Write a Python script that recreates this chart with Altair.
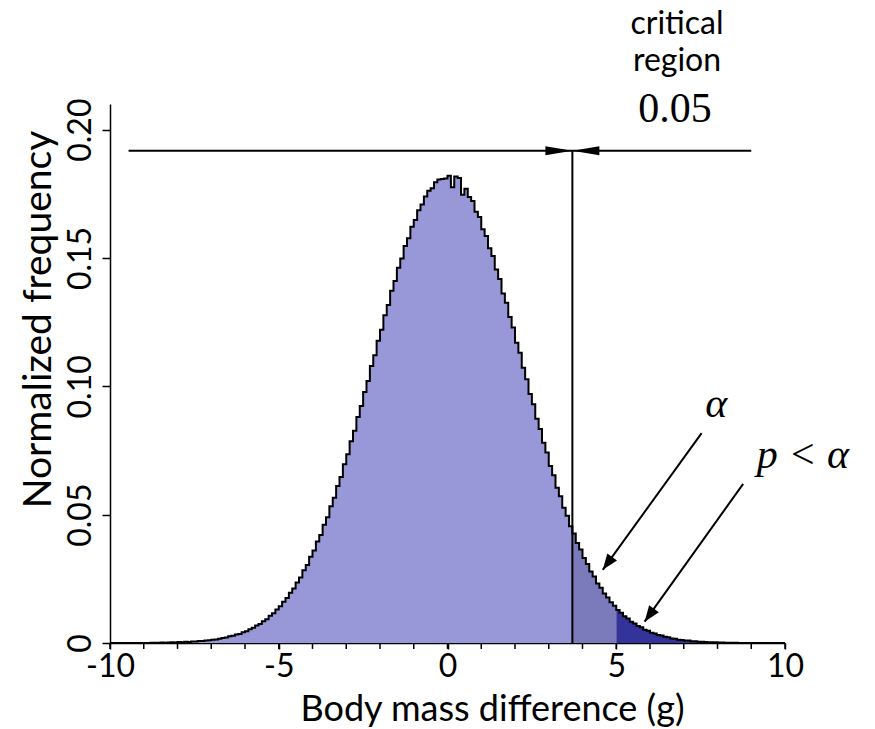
import altair as alt
import pandas as pd

# ---------------- data ----------------
bin_lo = -10.0
bin_w = 0.1

# bin heights, bins from -10.0 to 0.0 (step 0.1)
freq_left = [
    0, 0, 0, 0, 0, 0, 0, 0, 0, 0, 0, 0, 0.0001, 0.0001,
    0.0001, 0.0002, 0.0001, 0.0002, 0.0003, 0.0002, 0.0004, 0.0003, 0.0005, 0.0004,
    0.0006, 0.0006, 0.0008, 0.0008, 0.0010, 0.0011, 0.0013, 0.0014, 0.0017, 0.0019,
    0.0021, 0.0026, 0.0028, 0.0033, 0.0035, 0.0042, 0.0046, 0.0054, 0.0059, 0.0068,
    0.0074, 0.0085, 0.0093, 0.0106, 0.0116, 0.0131, 0.0143, 0.0161, 0.0175, 0.0196,
    0.0212, 0.0236, 0.0255, 0.0283, 0.0304, 0.0336, 0.0360, 0.0395, 0.0421, 0.0461,
    0.0490, 0.0533, 0.0566, 0.0612, 0.0647, 0.0696, 0.0735, 0.0786, 0.0827, 0.0881,
    0.0923, 0.0978, 0.1021, 0.1079, 0.1121, 0.1178, 0.1220, 0.1277, 0.1317, 0.1372,
    0.1410, 0.1462, 0.1498, 0.1547, 0.1577, 0.1622, 0.1648, 0.1686, 0.1708, 0.1740,
    0.1762, 0.1772, 0.1795, 0.1806, 0.1808, 0.1810,
]
# bin heights, bins from 0.0 to 10.0 (step 0.1)
freq_right = [
    0.1820, 0.1776, 0.1818, 0.1812, 0.1746, 0.1770, 0.1738, 0.1722, 0.1680, 0.1660,
    0.1612, 0.1586, 0.1538, 0.1508, 0.1455, 0.1418, 0.1362, 0.1326, 0.1270, 0.1229,
    0.1170, 0.1131, 0.1072, 0.1028, 0.0970, 0.0930, 0.0874, 0.0834, 0.0780, 0.0742,
    0.0690, 0.0654, 0.0605, 0.0572, 0.0527, 0.0496, 0.0455, 0.0427, 0.0390, 0.0364,
    0.0331, 0.0308, 0.0279, 0.0259, 0.0232, 0.0215, 0.0193, 0.0177, 0.0159, 0.0145,
    0.0129, 0.0118, 0.0104, 0.0095, 0.0083, 0.0076, 0.0066, 0.0061, 0.0052, 0.0048,
    0.0040, 0.0037, 0.0031, 0.0029, 0.0024, 0.0022, 0.0018, 0.0017, 0.0013, 0.0012,
    0.0010, 0.0010, 0.0007, 0.0007, 0.0005, 0.0005, 0.0004, 0.0003, 0.0003, 0.0003,
    0.0002, 0.0002, 0.0001, 0.0001, 0.0001, 0.0001,
    0, 0, 0, 0, 0, 0, 0, 0, 0, 0, 0, 0, 0, 0,
]
freq = freq_left + freq_right

critical = 3.7          # critical value (start of critical region)
p_cut = 5.0             # observed value
arrow_y = 0.1918
arrow_left = -9.45
arrow_right = 9.0

region_names = ["main", "alpha", "p"]
region_colors = ["#9898d8", "#7b7bbb", "#333399"]

x_major = [-10, -5, 0, 5, 10]
x_minor = list(range(-10, 11))
y_ticks = [0, 0.05, 0.10, 0.15, 0.20]
minor_tick_len = 0.0023   # length of minor x ticks, in y units

# diagonal annotation arrows: tail -> tip
diag_x = [7.53, 8.76]
diag_y = [0.0818, 0.0620]
diag_x2 = [4.60, 5.84]
diag_y2 = [0.0285, 0.0083]

# ---------------- tables ----------------
x0 = [round(bin_lo + i * bin_w, 2) for i in range(len(freq))]
bounds = [("main", bin_lo, critical), ("alpha", critical, p_cut), ("p", p_cut, 10.0)]
rows = []
for name, lo, hi in bounds:
    idx = [i for i, a in enumerate(x0) if lo - 1e-9 <= a < hi - 1e-9]
    for i in idx:
        rows.append({"x": x0[i], "freq": freq[i], "region": name})
    rows.append({"x": hi, "freq": freq[idx[-1]], "region": name})
area_df = pd.DataFrame(rows)
outline = pd.DataFrame({"x": x0 + [10.0], "freq": freq + [0.0]})

xscale = alt.Scale(domain=[-10, 10], nice=False, zero=False)
yscale = alt.Scale(domain=[0, 0.21], nice=False)

FONT = "Lato"

xaxis = alt.Axis(
    values=x_major,
    labelExpr="'' + datum.value",
    title="Body mass difference (g)",
    grid=False, tickSize=6, labelPadding=2,
    labelFont=FONT, labelFontSize=32, labelColor="black",
    titleFont=FONT, titleFontSize=36, titleFontWeight="normal", titleColor="black",
    titleX=382, titleY=77, titleBaseline="alphabetic",
    domainColor="black", tickColor="black", domainWidth=1.5, tickWidth=1.5,
    labelFlush=False,
)
yaxis = alt.Axis(
    values=y_ticks,
    labelExpr="datum.value == 0 ? '0' : format(datum.value, '.2f')",
    title="Normalized frequency",
    grid=False, tickSize=8, labelPadding=5,
    labelAngle=270, labelAlign="center", labelBaseline="bottom",
    labelFont=FONT, labelFontSize=32, labelColor="black",
    titleFont=FONT, titleFontSize=39, titleFontWeight="normal", titleColor="black",
    titleX=-60, titleY=215, titleBaseline="alphabetic", titleAngle=270,
    domainColor="black", tickColor="black", domainWidth=1.5, tickWidth=1.5,
    labelFlush=False,
)

fill = alt.Chart(area_df).mark_area(interpolate="step-after", opacity=1).encode(
    x=alt.X("x:Q", scale=xscale, axis=xaxis),
    y=alt.Y("freq:Q", scale=yscale, axis=yaxis, stack=None),
    color=alt.Color("region:N", scale=alt.Scale(domain=region_names, range=region_colors), legend=None),
)

line = alt.Chart(outline).mark_line(interpolate="step-after", color="black", strokeWidth=2).encode(
    x=alt.X("x:Q", scale=xscale),
    y=alt.Y("freq:Q", scale=yscale),
)

minor = alt.Chart(pd.DataFrame({"x": x_minor, "y": [0.0] * len(x_minor), "y2": [-minor_tick_len] * len(x_minor)})).mark_rule(
    color="black", strokeWidth=1.5
).encode(x=alt.X("x:Q", scale=xscale), y=alt.Y("y:Q", scale=yscale), y2="y2:Q")

crit_rule = alt.Chart(pd.DataFrame({"x": [critical], "y": [0.0], "y2": [arrow_y]})).mark_rule(
    color="black", strokeWidth=2
).encode(x=alt.X("x:Q", scale=xscale), y=alt.Y("y:Q", scale=yscale), y2="y2:Q")

h_rule = alt.Chart(pd.DataFrame({"x": [arrow_left], "x2": [arrow_right], "y": [arrow_y]})).mark_rule(
    color="black", strokeWidth=2
).encode(x=alt.X("x:Q", scale=xscale), x2="x2:Q", y=alt.Y("y:Q", scale=yscale))

h_heads = alt.Chart(pd.DataFrame({"x": [critical, critical], "y": [arrow_y, arrow_y], "a": [0, 180]})).mark_point(
    shape="M0,0L-2,-0.33L-2,0.33Z", filled=True, size=729, color="black", opacity=1, strokeWidth=0
).encode(x=alt.X("x:Q", scale=xscale), y=alt.Y("y:Q", scale=yscale), angle=alt.Angle("a:Q", scale=None))

d_rules = alt.Chart(pd.DataFrame({"x": diag_x, "y": diag_y, "x2": diag_x2, "y2": diag_y2})).mark_rule(
    color="black", strokeWidth=2
).encode(x=alt.X("x:Q", scale=xscale), x2="x2:Q", y=alt.Y("y:Q", scale=yscale), y2="y2:Q")

d_heads = alt.Chart(pd.DataFrame({"x": diag_x2, "y": diag_y2, "a": [126, 126]})).mark_point(
    shape="M0,0L-2,-0.75L-2,0.75Z", filled=True, size=256, color="black", opacity=1, strokeWidth=0
).encode(x=alt.X("x:Q", scale=xscale), y=alt.Y("y:Q", scale=yscale), angle=alt.Angle("a:Q", scale=None))

txt_sans = alt.Chart(pd.DataFrame({"x": [6.80, 6.80], "y": [0.2373, 0.2229], "t": ["critical", "region"]})).mark_text(
    font=FONT, fontSize=32, align="center", baseline="alphabetic", color="black"
).encode(x=alt.X("x:Q", scale=xscale), y=alt.Y("y:Q", scale=yscale), text="t:N")

txt_num = alt.Chart(pd.DataFrame({"x": [6.74], "y": [0.2031], "t": ["0.05"]})).mark_text(
    font="Liberation Serif", fontSize=42, align="center", baseline="alphabetic", color="black"
).encode(x=alt.X("x:Q", scale=xscale), y=alt.Y("y:Q", scale=yscale), text="t:N")

txt_math = alt.Chart(pd.DataFrame({"x": [7.96, 10.53], "y": [0.0881, 0.0682], "t": ["α", "p < α"]})).mark_text(
    font="Liberation Serif", fontSize=42, fontStyle="italic", align="center", baseline="alphabetic", color="black"
).encode(x=alt.X("x:Q", scale=xscale), y=alt.Y("y:Q", scale=yscale), text="t:N")

chart = alt.layer(
    fill, line, minor, crit_rule, h_rule, h_heads, d_rules, d_heads, txt_sans, txt_num, txt_math
).properties(
    width=675, height=539,
    padding={"left": 110, "top": 104, "right": 90, "bottom": 86},
    autosize=alt.AutoSizeParams(type="none"),
    background="white",
).configure_view(stroke=None)

chart.save("out.html", embed_options={"renderer": "svg", "actions": False})
